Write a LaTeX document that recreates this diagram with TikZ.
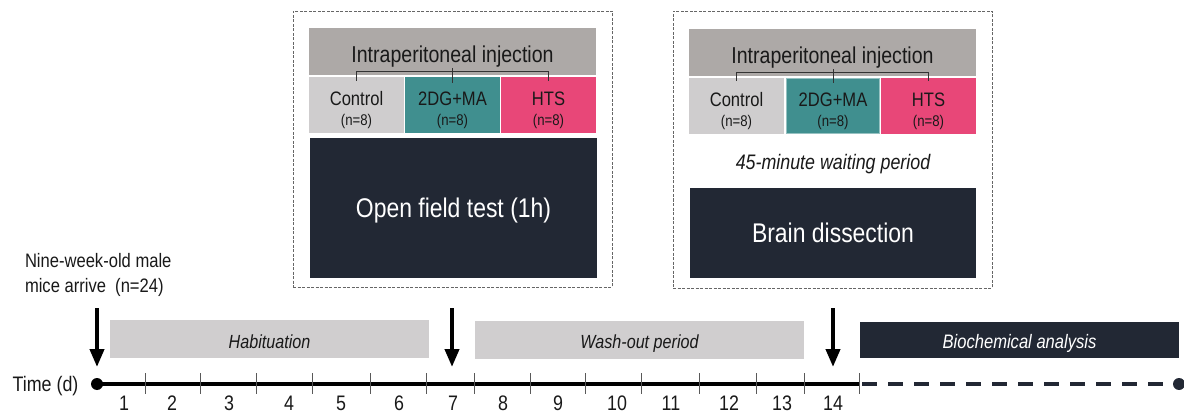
\documentclass[tikz,border=0pt]{standalone}
\usepackage{fontspec}
\setmainfont{Liberation Sans}[FakeStretch=0.85]
\usetikzlibrary{arrows.meta,calc}
\definecolor{hdrgray}{RGB}{173,169,167}
\definecolor{ctrlgray}{RGB}{207,205,206}
\definecolor{tealc}{RGB}{64,143,143}
\definecolor{pinkc}{RGB}{232,71,120}
\definecolor{navy}{RGB}{34,40,52}
\definecolor{pergray}{RGB}{208,206,207}
\definecolor{txtc}{RGB}{25,25,25}
\newcommand\myfs[1]{\fontsize{#1}{#1}\selectfont}
\begin{document}
\begin{tikzpicture}[x=1pt,y=-1pt,
  box/.style={inner sep=0pt, outer sep=0pt, draw=none},
  dashbox/.style={draw=black!60, line width=0.9pt, dash pattern=on 3pt off 1.5pt, inner sep=0pt, outer sep=0pt},
  txt/.style={inner sep=0pt, outer sep=0pt, text=txtc, anchor=base},
  bracket/.style={draw=black!80, line width=1pt},
  tickm/.style={draw=black!65, line width=1pt},
  bigarrow/.style={line width=4pt, -{Triangle[width=14pt,length=18pt]}},
]
\useasboundingbox (0,0) rectangle (1184,414);

% ---------- left panel ----------
\node[dashbox, minimum width=319pt, minimum height=276pt] (frameA) at (452.5,149) {};
\node[box, fill=hdrgray, minimum width=287pt, minimum height=47pt] (hdrA) at (452.5,51.5) {};
\node[txt, font=\myfs{23}] (hdrAt) at (452.5,63) {Intraperitoneal injection};
\node[box, fill=ctrlgray, minimum width=95pt, minimum height=56pt] (c1) at (356.5,105) {};
\node[box, fill=tealc, minimum width=95pt, minimum height=56pt] (d1) at (452.5,105) {};
\node[box, fill=pinkc, minimum width=95pt, minimum height=56pt] (h1) at (548.5,105) {};
\node[txt, font=\myfs{19.5}] (c1t) at (356.5,106) {Control};
\node[txt, font=\myfs{15.5}] (c1n) at (356.5,126) {(n=8)};
\node[txt, font=\myfs{19.5}] (d1t) at (452.5,106) {2DG+MA};
\node[txt, font=\myfs{15.5}] (d1n) at (452.5,126) {(n=8)};
\node[txt, font=\myfs{19.5}] (h1t) at (548.5,106) {HTS};
\node[txt, font=\myfs{15.5}] (h1n) at (548.5,126) {(n=8)};
\draw[bracket] ($(c1.north)+(0,4)$) |- ($(h1.north)+(0,-5)$) -- ($(h1.north)+(0,4)$);
\draw[bracket] ($(d1.north)+(0,-9)$) -- ($(d1.north)+(0,6)$);
\node[box, fill=navy, minimum width=287pt, minimum height=140pt] (ofA) at (453.5,208) {};
\node[txt, text=white, font=\myfs{27}] (ofAt) at (453.5,218) {Open field test (1h)};

% ---------- right panel ----------
\node[dashbox, minimum width=319pt, minimum height=277pt] (frameB) at (832.5,149.5) {};
\node[box, fill=hdrgray, minimum width=287pt, minimum height=47pt] (hdrB) at (832.5,52.5) {};
\node[txt, font=\myfs{23}] (hdrBt) at (832.5,64) {Intraperitoneal injection};
\node[box, fill=ctrlgray, minimum width=95pt, minimum height=56pt] (c2) at (736.5,106) {};
\node[box, fill=tealc, draw=tealc!55!white, line width=0.8pt, minimum width=93pt, minimum height=55pt] (d2) at (833,106) {};
\node[box, fill=pinkc, minimum width=95pt, minimum height=56pt] (h2) at (928.5,106) {};
\node[txt, font=\myfs{19.5}] (c2t) at (736.5,107) {Control};
\node[txt, font=\myfs{15.5}] (c2n) at (736.5,127) {(n=8)};
\node[txt, font=\myfs{19.5}] (d2t) at (833,107) {2DG+MA};
\node[txt, font=\myfs{15.5}] (d2n) at (833,127) {(n=8)};
\node[txt, font=\myfs{19.5}] (h2t) at (928.5,107) {HTS};
\node[txt, font=\myfs{15.5}] (h2n) at (928.5,127) {(n=8)};
\draw[bracket] ($(c2.north)+(0,3)$) |- ($(h2.north)+(0,-5)$) -- ($(h2.north)+(0,3)$);
\draw[bracket] ($(d2.north)+(0,-9)$) -- ($(d2.north)+(0,5)$);
\node[txt, font=\myfs{21}\itshape] (wait) at (833,170) {45-minute waiting period};
\node[box, fill=navy, minimum width=286pt, minimum height=90pt] (bdB) at (833,233) {};
\node[txt, text=white, font=\myfs{27}] (bdBt) at (833,243) {Brain dissection};

% ---------- arrival text ----------
\node[txt, anchor=base west, font=\myfs{19.5}] (arr1) at (25,268) {Nine-week-old male};
\node[txt, anchor=base west, font=\myfs{19.5}] (arr2) at (25,293) {mice arrive\ \ (n=24)};

% ---------- periods ----------
\node[box, fill=pergray, minimum width=319pt, minimum height=38pt] (hab) at (269.5,339) {};
\node[txt, font=\myfs{19}\itshape] (habt) at (269.5,348) {Habituation};
\node[box, fill=pergray, minimum width=329pt, minimum height=38pt] (wash) at (639.5,340) {};
\node[txt, font=\myfs{19}\itshape] (washt) at (639.5,348) {Wash-out period};
\node[box, fill=navy, minimum width=319pt, minimum height=36pt] (bio) at (1019.5,340) {};
\node[txt, text=white, font=\myfs{19.5}\itshape] (biot) at (1019.5,348) {Biochemical analysis};

% ---------- timeline ----------
\node[txt, font=\myfs{21}] (timel) at (45.5,391) {Time (d)};
\node[circle, fill=black, minimum size=12pt, inner sep=0pt] (t0) at (97,384) {};
\node[circle, fill=navy, minimum size=12pt, inner sep=0pt] (tend) at (1179,384) {};
\coordinate (k14) at (859,384);
\draw[line width=4.5pt] (t0.center) -- (k14);
\draw[navy, line width=4pt, dash pattern=on 15pt off 11pt] ($(k14)+(3,0)$) -- (tend.center);
\foreach \x in {145,200,256,312,370,426,474,530,585,641,699,756,804,859}
  \draw[tickm] (\x,373) -- (\x,394);
\foreach \x/\n in {124/1,172/2,229/3,289/4,341/5,399/6,453/7,503/8,558/9,617/10,671/11,729/12,782/13,833/14}
  \node[txt, font=\myfs{21}] (num\n) at (\x,410.5) {\n};

% ---------- arrows ----------
\coordinate (a1s) at (97,308);  \coordinate (a1e) at (97,367);
\coordinate (a2s) at (452,308); \coordinate (a2e) at (452,367);
\coordinate (a3s) at (833,308); \coordinate (a3e) at (833,367);
\draw[bigarrow] (a1s) -- (a1e);
\draw[bigarrow] (a2s) -- (a2e);
\draw[bigarrow] (a3s) -- (a3e);
\end{tikzpicture}
\end{document}
